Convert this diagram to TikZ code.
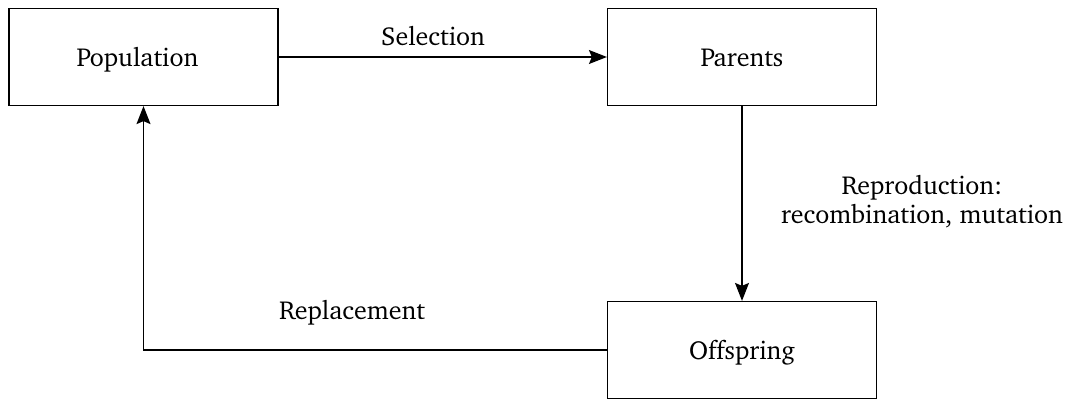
\documentclass[tikz,border=0pt]{standalone}
\usepackage[T1]{fontenc}
\usepackage{charter}
\usetikzlibrary{arrows.meta}
\begin{document}
\begin{tikzpicture}[x=1pt,y=-1pt,
  stage/.style={draw, line width=1.2pt, minimum width=269pt, minimum height=97pt, inner sep=0pt, text height=20pt, text depth=2pt, font=\fontsize{26}{30}\selectfont},
  flow/.style={line width=1.2pt, -{Stealth[length=18pt,width=14pt,inset=3pt]}},
  lbl/.style={font=\fontsize{26}{29}\selectfont, align=center}]
  \useasboundingbox (0,0) rectangle (1069,399);
  \node[stage] (pop) at (143.5,57) {};
  \node[stage] (par) at (742,57) {Parents};
  \node[stage] (off) at (742,350) {Offspring};
  \node[stage, draw=none, minimum width=0pt, minimum height=0pt] (poptext) at (137.5,57) {Population};
  \draw[flow] (pop.east) -- (par.west);
  \draw[flow] (par.south) -- (off.north);
  \draw[flow] (off.west) -| (pop.south);
  \node[lbl] (sel) at (433,36) {Selection};
  \node[lbl] (rep) at (922,202) {Reproduction:\\recombination, mutation};
  \node[lbl] (rpl) at (352,313) {Replacement};
\end{tikzpicture}
\end{document}
